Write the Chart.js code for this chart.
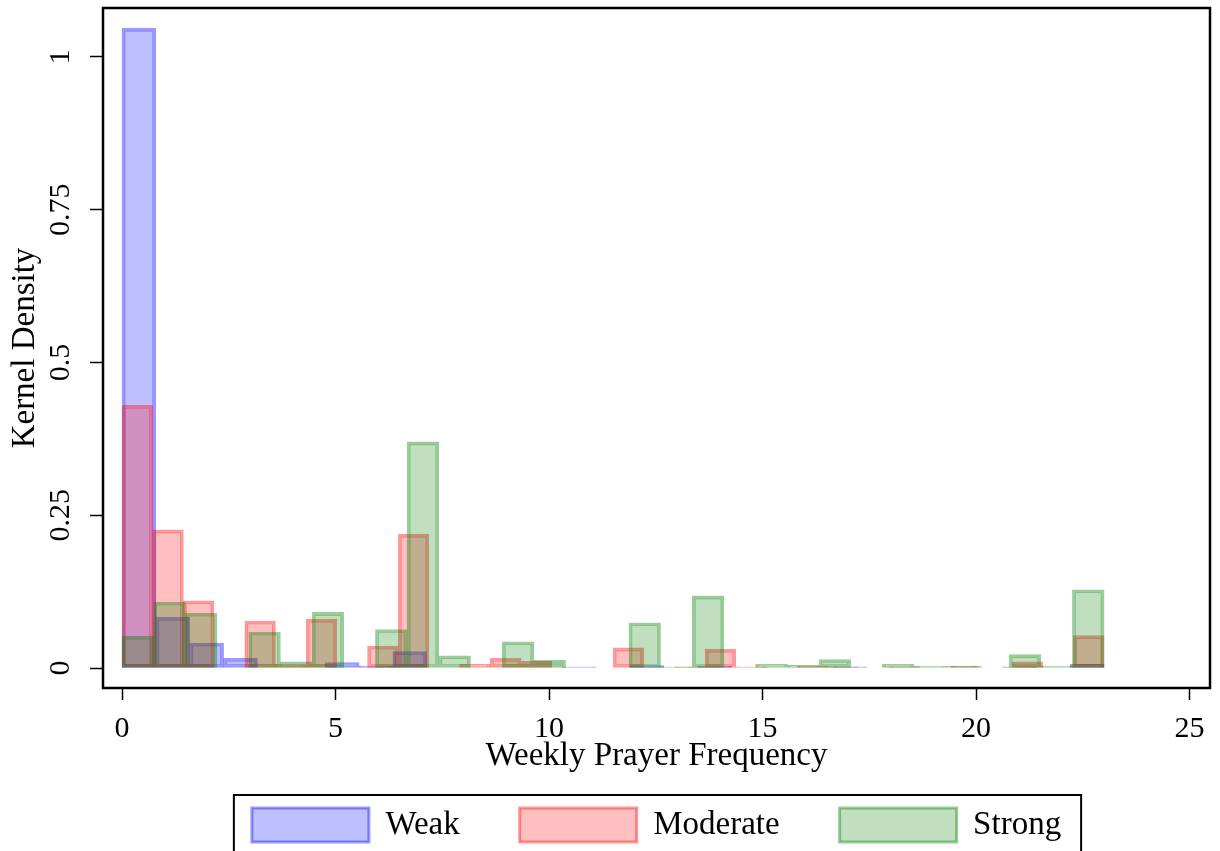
<!DOCTYPE html>
<html>
<head>
<meta charset="utf-8">
<title>Weekly Prayer Frequency</title>
<script src="https://cdn.jsdelivr.net/npm/chart.js@4.4.0/dist/chart.umd.min.js"></script>
<style>
  html, body { margin: 0; padding: 0; background: #fff; }
  #wrap { width: 1220px; height: 851px; }
</style>
</head>
<body>
<div id="wrap"><canvas id="densityChart"></canvas></div>
<script>
const FONT = "'Liberation Serif', 'Times New Roman', serif";

// every histogram covers 0..23 prayers a week; the bin count differs per group
const maxFrequency = 23;

// density per bin, in bin order from 0 upward
const weakDensity = [
    1.047, 0.083, 0.041, 0.016, 0, 0, 0.009, 0.003, 0.027, 0,
    0, 0, 0, 0.002, 0, 0.004, 0, 0.003, 0, 0,
    0, 0.002, 0, 0, 0, 0, 0.002, 0, 0.006
];
const moderateDensity = [
    0.430, 0.226, 0.110, 0, 0.077, 0.006, 0.080, 0, 0.036, 0.219,
    0, 0.006, 0.016, 0.011, 0, 0, 0.033, 0, 0.002, 0.031,
    0.002, 0, 0.003, 0.002, 0, 0.002, 0, 0.003, 0, 0.010,
    0, 0.053
];
const strongDensity = [
    0.052, 0.108, 0.090, 0, 0.059, 0.010, 0.091, 0, 0.063, 0.370,
    0.020, 0, 0.043, 0.013, 0, 0, 0.074, 0.002, 0.118, 0,
    0.006, 0.005, 0.014, 0, 0.006, 0.003, 0.003, 0, 0.022, 0.003,
    0.128
];

const groupLabels = ["Weak", "Moderate", "Strong"];
const xTickValues = [0, 5, 10, 15, 20, 25];
const yTickValues = [0, 0.25, 0.5, 0.75, 1];
const yTickLabels = ["0", "0.25", "0.5", "0.75", "1"];

const X_MIN = -0.445;
const X_MAX = 25.48;

function toBins(values) {
    const width = maxFrequency / values.length;
    return values.map((v, i) => ({ x: (i + 0.5) * width, y: v }));
}

function histogram(label, values, axisId, rgb, order) {
    return {
        label: label,
        data: toBins(values),
        xAxisID: axisId,
        order: order,
        backgroundColor: `rgba(${rgb}, 0.25)`,
        borderColor: `rgba(${rgb}, 0.4)`,
        borderWidth: 3,
        borderSkipped: false,
        categoryPercentage: 1,
        barPercentage: 1,
        grouped: false
    };
}

// each group gets its own (hidden) x axis so Chart.js sizes bars by that group's bin width
function hiddenAxis() {
    return { type: "linear", display: false, min: X_MIN, max: X_MAX, offset: false };
}

const tickGrid = (len) => ({
    display: true,
    drawOnChartArea: false,
    drawTicks: true,
    tickLength: len,
    tickColor: "#000",
    tickWidth: 1.5,
    offset: false
});

const framePlugin = {
    id: "frame",
    afterDatasetsDraw(chart) {
        const { ctx, chartArea: a } = chart;
        ctx.save();
        ctx.strokeStyle = "#000";
        ctx.lineWidth = 2.5;
        ctx.strokeRect(a.left, a.top, a.right - a.left, a.bottom - a.top);
        ctx.restore();
    },
    afterDraw(chart) {
        const boxes = chart.legend && chart.legend.legendHitBoxes;
        if (!boxes || !boxes.length) {
            return;
        }
        const first = boxes[0];
        const last = boxes[boxes.length - 1];
        const left = first.left - 18;
        const right = last.left + last.width + 20;
        const top = first.top - 13;
        const ctx = chart.ctx;
        ctx.save();
        ctx.strokeStyle = "#000";
        ctx.lineWidth = 2;
        ctx.strokeRect(left, top, right - left, 90);
        ctx.restore();
    }
};

Chart.defaults.font.family = FONT;
Chart.defaults.color = "#000";

const chart = new Chart(document.getElementById("densityChart").getContext("2d"), {
    type: "bar",
    data: {
        datasets: [
            histogram(groupLabels[0], weakDensity, "x", "0, 0, 255", 3),
            histogram(groupLabels[1], moderateDensity, "x2", "255, 0, 0", 2),
            histogram(groupLabels[2], strongDensity, "x3", "0, 128, 0", 1)
        ]
    },
    options: {
        responsive: true,
        maintainAspectRatio: false,
        animation: false,
        devicePixelRatio: 1,
        layout: { padding: { top: 8, right: 10, left: 0, bottom: 0 } },
        plugins: {
            tooltip: { enabled: false },
            legend: {
                position: "bottom",
                fullSize: false,
                maxHeight: 103,
                labels: {
                    font: { size: 33 },
                    color: "#000",
                    boxWidth: 117,
                    boxHeight: 34,
                    padding: 60,
                    sort: (a, b) => a.datasetIndex - b.datasetIndex
                }
            }
        },
        scales: {
            x: {
                type: "linear",
                position: "bottom",
                min: X_MIN,
                max: X_MAX,
                offset: false,
                afterBuildTicks: axis => { axis.ticks = xTickValues.map(value => ({ value })); },
                afterFit: axis => { axis.height = 60; axis.paddingLeft = 0; axis.paddingRight = 0; },
                grid: tickGrid(12),
                border: { display: false },
                ticks: { font: { size: 30 }, padding: 11, maxRotation: 0, autoSkip: false },
                title: {
                    display: true,
                    text: "Weekly Prayer Frequency",
                    font: { size: 33 },
                    padding: { top: 0, bottom: -28 }
                }
            },
            x2: hiddenAxis(),
            x3: hiddenAxis(),
            y: {
                type: "linear",
                min: -0.0327,
                max: 1.08,
                afterBuildTicks: axis => { axis.ticks = yTickValues.map(value => ({ value })); },
                afterFit: axis => { axis.width = 103; axis.paddingTop = 0; axis.paddingBottom = 0; },
                grid: tickGrid(13),
                border: { display: false },
                ticks: {
                    font: { size: 30 },
                    padding: 3,
                    minRotation: 90,
                    maxRotation: 90,
                    crossAlign: "center",
                    autoSkip: false,
                    callback: (value, index) => yTickLabels[index]
                },
                title: {
                    display: true,
                    text: "Kernel Density",
                    font: { size: 33 },
                    padding: { top: 6, bottom: 0 }
                }
            }
        }
    },
    plugins: [framePlugin]
});
</script>
</body>
</html>
